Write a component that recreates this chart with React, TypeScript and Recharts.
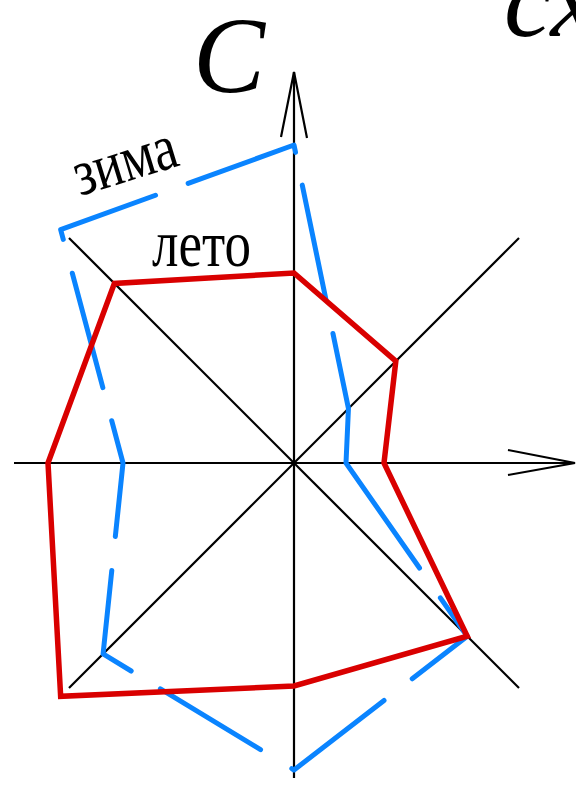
import { PolarAngleAxis, PolarRadiusAxis, Radar, RadarChart } from 'recharts'

// направления румбов (по часовой от севера)
const directions = ['С', 'СВ', 'В', 'ЮВ', 'Ю', 'ЮЗ', 'З', 'СЗ']
// повторяемость ветра, усл. ед.
const summer = [19.0, 14.4, 9.0, 24.5, 22.3, 33.0, 24.6, 25.4]
const winter = [31.8, 7.7, 5.2, 24.5, 30.7, 27.0, 17.1, 33.0]

const data = directions.map((d, i) => ({ dir: d, summer: summer[i], winter: winter[i] }))

const W = 576
const H = 785
const CX = 294
const CY = 463
const MAX = 34
const R = 340

// штрихи "зимы" неровные, как в оригинале
const winterDash = '7.5 33.5 116.5 35 259.3 36.4 116.4 35.6 116.3 36.6 117.2 34.2 116.8 34.1 117.7 34.3 118.4 35 111 34.7 115 100'

const serif = '"Liberation Serif", "Times New Roman", serif'

function Axes() {
  const d = 225
  return (
    <svg width={W} height={H} style={{ position: 'absolute', left: 0, top: 0 }}>
      <g stroke="#000" strokeWidth={2.2} fill="none">
        <line x1={CX} y1={72} x2={CX} y2={778} />
        <line x1={14} y1={CY} x2={575} y2={CY} />
        <line x1={CX - d} y1={CY - d} x2={CX + d} y2={CY + d} />
        <line x1={CX + d} y1={CY - d} x2={CX - d} y2={CY + d} />
        <polyline points={`${CX - 13},137 ${CX},72 ${CX + 13},138`} />
        <polyline points={`508,${CY - 13} 575,${CY} 508,${CY + 12}`} />
      </g>
    </svg>
  )
}

function Labels() {
  return (
    <svg width={W} height={H} style={{ position: 'absolute', left: 0, top: 0, pointerEvents: 'none' }}>
      <g fontFamily={serif} fill="#000">
        <text x={193} y={92} fontSize={108} fontStyle="italic">C</text>
        <text x={504} y={36} fontSize={108} fontStyle="italic">сх</text>
        <text x={152} y={266} fontSize={65} textLength={99} lengthAdjust="spacingAndGlyphs">лето</text>
        <text x={80} y={196} fontSize={65} textLength={106} lengthAdjust="spacingAndGlyphs"
          transform="rotate(-17 80 196)">зима</text>
      </g>
    </svg>
  )
}

export default function App() {
  return (
    <div style={{ position: 'absolute', left: 0, top: 0, width: W, height: H, background: '#fff', overflow: 'hidden' }}>
      <Axes />
      <div style={{ position: 'absolute', left: 0, top: 0 }}>
        <RadarChart width={W} height={H} data={data} cx={CX} cy={CY} outerRadius={R}
          margin={{ top: 0, right: 0, bottom: 0, left: 0 }}>
          <PolarAngleAxis dataKey="dir" tick={false} axisLine={false} tickLine={false} />
          <PolarRadiusAxis domain={[0, MAX]} tick={false} axisLine={false} tickLine={false} />
          <Radar dataKey="winter" name="зима" stroke="#0a84ff" strokeWidth={5} fill="none"
            strokeDasharray={winterDash} strokeLinecap="round" strokeLinejoin="round"
            dot={false} isAnimationActive={false} />
          <Radar dataKey="summer" name="лето" stroke="#d90000" strokeWidth={5.5} fill="none"
            strokeLinejoin="miter" dot={false} isAnimationActive={false} />
        </RadarChart>
      </div>
      <Labels />
    </div>
  )
}
